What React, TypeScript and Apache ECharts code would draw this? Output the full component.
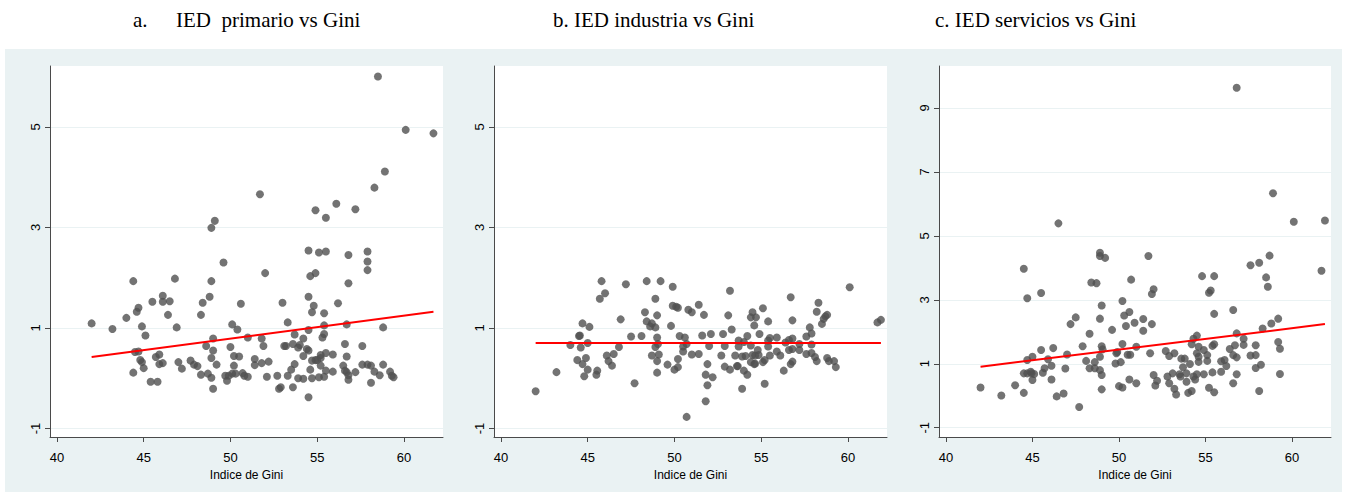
import React, { useEffect, useRef } from "react";
import * as echarts from "echarts";

const xTicks = [40, 45, 50, 55, 60];
const yTicksAB = [-1, 1, 3, 5];
const yTicksC = [-1, 1, 3, 5, 7, 9];

const titleA1 = "a.";
const titleA2 = "IED  primario vs Gini";
const titleB = "b. IED industria vs Gini";
const titleC = "c. IED servicios vs Gini";
const xName = "Indice de Gini";

// a. IED primario vs Gini  [gini, ied]
const primario: [number, number][] = [
  [58.5, 6.0], [60.1, 4.94], [61.7, 4.87], [58.9, 4.11], [58.3, 3.79], [51.7, 3.66], [56.1, 3.47], [57.2, 3.36],
  [54.9, 3.34], [55.5, 3.19], [49.1, 3.13], [48.9, 2.99], [54.5, 2.54], [55.1, 2.5], [55.5, 2.52], [57.9, 2.52],
  [56.8, 2.45], [57.9, 2.32], [57.9, 2.15], [49.6, 2.3], [52.0, 2.09], [54.9, 2.09], [54.6, 2.03], [46.8, 1.98],
  [44.4, 1.93], [48.9, 1.93], [56.8, 1.89], [54.5, 1.62], [48.8, 1.62], [46.1, 1.64], [45.5, 1.52], [46.1, 1.52],
  [46.5, 1.53], [48.4, 1.5], [53.0, 1.5], [56.2, 1.49], [50.6, 1.48], [54.8, 1.44], [54.7, 1.31], [55.4, 1.29],
  [44.7, 1.4], [44.6, 1.32], [46.4, 1.26], [48.3, 1.26], [44.0, 1.2], [42.0, 1.09], [43.2, 0.98], [44.9, 1.03],
  [46.9, 1.01], [45.1, 0.85], [50.1, 1.07], [50.4, 0.97], [53.3, 1.11], [55.4, 1.05], [56.7, 1.07], [58.8, 1.01],
  [54.5, 0.96], [55.4, 0.88], [55.3, 0.81], [53.7, 0.87], [51.0, 0.81], [51.8, 0.79], [49.0, 0.79], [54.2, 0.79],
  [48.6, 0.64], [50.0, 0.62], [51.9, 0.64], [53.1, 0.64], [53.2, 0.64], [53.6, 0.68], [53.9, 0.61], [54.0, 0.66],
  [56.6, 0.68], [57.6, 0.64], [54.4, 0.58], [54.5, 0.55], [49.0, 0.55], [44.5, 0.52], [44.7, 0.53], [55.5, 0.5],
  [55.9, 0.47], [55.2, 0.46], [54.2, 0.44], [50.2, 0.44], [50.5, 0.43], [56.7, 0.43], [45.9, 0.47], [45.7, 0.42],
  [48.9, 0.4], [44.8, 0.36], [44.9, 0.32], [51.4, 0.38], [54.7, 0.35], [54.9, 0.36], [55.0, 0.36], [55.2, 0.4],
  [47.0, 0.32], [47.7, 0.35], [52.2, 0.33], [51.8, 0.3], [46.1, 0.3], [45.9, 0.28], [47.9, 0.27], [48.1, 0.24],
  [49.2, 0.27], [51.4, 0.26], [53.7, 0.28], [55.2, 0.25], [56.5, 0.25], [57.6, 0.27], [57.9, 0.27], [58.1, 0.25],
  [58.8, 0.27], [50.2, 0.25], [45.0, 0.2], [47.2, 0.19], [53.5, 0.17], [54.6, 0.17], [55.5, 0.15], [55.9, 0.13],
  [56.6, 0.15], [56.7, 0.12], [57.2, 0.12], [58.3, 0.13], [59.2, 0.13], [44.4, 0.11], [48.3, 0.07], [48.7, 0.09],
  [49.7, 0.05], [49.9, 0.05], [50.1, 0.09], [50.3, 0.09], [50.7, 0.1], [50.8, 0.05], [51.0, 0.03], [52.1, 0.03],
  [52.7, 0.05], [53.3, 0.05], [53.9, 0.0], [54.2, -0.01], [54.7, 0.0], [55.1, 0.02], [55.4, 0.03], [56.8, 0.06],
  [58.6, 0.06], [59.3, 0.05], [59.4, 0.02], [48.9, 0.01], [49.8, -0.05], [56.8, -0.03], [45.4, -0.07], [45.8, -0.07],
  [58.1, -0.09], [52.8, -0.21], [52.9, -0.18], [53.6, -0.18], [49.0, -0.21], [54.5, -0.38],
];
const fitPrimario: [number, number][] = [[42.0, 0.42], [61.7, 1.32]];

// b. IED industria vs Gini
const industria: [number, number][] = [
  [42.0, -0.26], [43.2, 0.12], [44.0, 0.66], [44.5, 0.84], [44.55, 0.85], [44.4, 0.36], [44.6, 0.61], [44.7, 1.09],
  [44.7, 0.28], [44.9, 0.4], [44.8, 0.04], [45.0, 0.17], [45.0, 0.7], [45.1, 1.02], [45.5, 0.07], [45.55, 0.15],
  [45.7, 1.58], [45.8, 1.93], [46.0, 1.69], [46.1, 0.45], [46.2, 0.34], [46.4, 0.25], [46.5, 0.48], [46.8, 0.62],
  [46.9, 1.17], [47.2, 1.87], [47.5, 0.83], [47.7, -0.1], [48.1, 0.84], [48.3, 1.31], [48.4, 1.93], [48.4, 1.13],
  [48.6, 1.03], [48.7, 1.09], [48.7, 0.45], [48.9, 0.62], [48.9, 1.01], [48.9, 1.58], [49.0, 0.81], [49.0, 1.25],
  [49.05, 0.68], [49.1, 0.47], [49.0, 0.34], [49.0, 0.11], [49.2, 1.93], [49.6, 0.27], [49.8, 1.04], [49.9, 1.82],
  [49.9, 1.44], [50.0, 0.17], [50.2, 0.22], [50.2, 0.38], [50.1, 1.42], [50.2, 1.4], [50.3, 0.84], [50.5, 0.53],
  [50.5, 0.63], [50.6, 0.81], [50.7, 0.68], [50.7, -0.77], [50.8, 1.36], [51.0, 1.31], [51.0, 0.47], [51.4, 1.46],
  [51.4, 0.48], [51.6, 0.85], [51.7, 1.26], [51.8, 0.07], [51.8, -0.46], [51.9, 0.28], [51.9, -0.14], [52.0, 0.64],
  [52.1, 0.88], [52.2, 0.02], [52.7, 0.45], [52.8, 0.88], [52.9, 0.23], [52.9, 0.64], [53.1, 1.25], [53.2, 0.17],
  [53.2, 1.74], [53.3, 0.97], [53.5, 0.45], [53.6, 0.24], [53.65, 0.24], [53.7, 0.63], [53.7, 0.75], [53.9, 0.43],
  [53.9, -0.21], [54.0, 0.15], [54.0, 0.72], [54.1, 0.44], [54.2, 0.84], [54.2, 0.07], [54.4, 0.32], [54.4, 0.65],
  [54.4, 1.21], [54.5, 0.46], [54.5, 1.31], [54.6, 1.05], [54.6, 0.28], [54.65, 0.29], [54.65, 0.45], [54.7, 1.21],
  [54.8, 0.56], [54.9, 0.88], [54.85, 0.46], [55.1, 1.39], [55.1, 0.32], [55.2, -0.11], [55.2, 0.36], [55.4, 0.63],
  [55.4, 0.75], [55.4, 1.13], [55.5, 0.45], [55.5, 0.8], [55.9, 0.81], [55.9, 0.53], [56.1, 0.45], [56.3, 0.15],
  [56.4, 0.71], [56.6, 0.76], [56.7, 1.61], [56.6, 0.56], [56.7, 0.28], [56.8, 0.79], [56.8, 1.15], [56.8, 0.58],
  [56.8, 0.33], [57.2, 0.68], [57.2, 0.56], [57.6, 0.48], [57.6, 0.83], [57.8, 1.01], [57.9, 0.67], [57.9, 0.89],
  [57.9, 0.5], [58.1, 0.42], [58.2, 1.32], [58.2, 0.34], [58.3, 1.5], [58.5, 1.08], [58.6, 1.18], [58.7, 1.23],
  [58.8, 1.26], [58.8, 0.4], [58.9, 0.34], [59.2, 0.34], [59.3, 0.22], [60.1, 1.81], [61.7, 1.11], [61.9, 1.16],
];
const fitIndustria: [number, number][] = [[42.0, 0.7], [61.9, 0.7]];

// c. IED servicios vs Gini
const servicios: [number, number][] = [
  [56.8, 9.63], [58.9, 6.33], [46.5, 5.39], [60.1, 5.44], [61.9, 5.48], [48.9, 4.47], [48.9, 4.37], [49.2, 4.31],
  [51.7, 4.37], [58.7, 4.38], [44.5, 3.97], [57.6, 4.08], [58.1, 4.16], [61.7, 3.91], [54.8, 3.74], [55.5, 3.74],
  [58.5, 3.7], [58.6, 3.41], [50.7, 3.63], [48.4, 3.54], [48.7, 3.52], [45.5, 3.21], [44.7, 3.05], [51.9, 3.18],
  [52.0, 3.33], [55.2, 3.22], [55.3, 3.29], [50.2, 2.96], [49.0, 2.82], [56.6, 2.68], [50.3, 2.51], [50.6, 2.62],
  [55.5, 2.56], [47.5, 2.45], [48.9, 2.41], [51.4, 2.4], [59.2, 2.41], [47.2, 2.24], [50.9, 2.28], [51.9, 2.24],
  [58.8, 2.26], [50.4, 2.18], [49.6, 2.06], [51.4, 2.03], [58.3, 2.1], [48.3, 1.94], [56.8, 1.95], [57.2, 1.78],
  [59.2, 1.68], [54.3, 1.78], [54.5, 1.88], [47.9, 1.55], [49.0, 1.55], [50.2, 1.62], [51.0, 1.53], [54.2, 1.61],
  [54.6, 1.53], [55.4, 1.56], [55.5, 1.61], [56.7, 1.58], [57.2, 1.59], [57.9, 1.58], [59.3, 1.47], [45.5, 1.43],
  [46.2, 1.49], [49.05, 1.45], [52.7, 1.4], [53.2, 1.33], [54.9, 1.43], [56.4, 1.46], [49.9, 1.37], [49.85, 1.33],
  [50.5, 1.28], [50.65, 1.28], [51.8, 1.33], [52.9, 1.24], [54.5, 1.33], [54.6, 1.22], [55.1, 1.27], [47.0, 1.29],
  [48.9, 1.22], [45.0, 1.22], [56.6, 1.27], [56.8, 1.2], [57.6, 1.26], [57.9, 1.27], [53.6, 1.16], [53.8, 1.16],
  [44.7, 1.12], [45.9, 1.14], [48.1, 1.09], [48.6, 1.05], [49.8, 1.01], [50.1, 1.05], [54.1, 0.99], [54.6, 1.06],
  [55.1, 1.09], [55.9, 1.08], [56.1, 1.12], [56.2, 0.93], [58.2, 0.97], [46.1, 0.94], [53.7, 0.89], [45.7, 0.86],
  [46.9, 0.85], [48.3, 0.86], [48.6, 0.86], [48.9, 0.8], [57.9, 0.87], [44.5, 0.7], [44.7, 0.7], [44.9, 0.75],
  [44.95, 0.7], [45.1, 0.68], [45.6, 0.72], [49.0, 0.65], [52.0, 0.65], [53.1, 0.7], [53.5, 0.67], [53.9, 0.7],
  [54.5, 0.67], [54.9, 0.67], [55.4, 0.73], [55.9, 0.75], [56.8, 0.67], [59.3, 0.68], [45.0, 0.49], [46.1, 0.51],
  [52.8, 0.6], [53.55, 0.6], [54.3, 0.6], [54.4, 0.51], [50.6, 0.51], [52.2, 0.47], [52.9, 0.39], [53.9, 0.44],
  [44.0, 0.33], [51.0, 0.39], [52.1, 0.32], [42.0, 0.26], [50.0, 0.3], [50.2, 0.26], [55.2, 0.25], [56.6, 0.39],
  [49.0, 0.2], [53.2, 0.22], [53.3, 0.04], [54.0, 0.09], [54.2, 0.15], [55.5, 0.11], [58.1, 0.15], [44.5, 0.09],
  [46.8, 0.07], [43.2, 0.01], [46.4, -0.02], [47.7, -0.35],
];
const fitServicios: [number, number][] = [[42.0, 0.91], [61.9, 2.24]];

const FONT_SANS = '"Liberation Sans", Arial, sans-serif';
const FONT_SERIF = '"Liberation Serif", "Times New Roman", serif';
const BG = "#EAF2F3";
const AXIS_COLOR = "#4a4a4a";

function makeX(gridIndex: number) {
  return {
    type: "value",
    gridIndex,
    min: 39.6,
    max: 62.25,
    name: xName,
    nameLocation: "middle",
    nameGap: 29,
    nameTextStyle: { fontFamily: FONT_SANS, fontSize: 12, color: "#000" },
    axisLine: { show: true, onZero: false, lineStyle: { color: AXIS_COLOR, width: 1 } },
    axisTick: { show: true, length: 5, customValues: xTicks, lineStyle: { color: AXIS_COLOR } },
    axisLabel: { customValues: xTicks, margin: 14, fontFamily: FONT_SANS, fontSize: 13, color: "#000" },
    splitLine: { show: false },
  };
}

function makeY(gridIndex: number, min: number, max: number, ticks: number[]) {
  return {
    type: "value",
    gridIndex,
    min,
    max,
    axisLine: { show: true, onZero: false, lineStyle: { color: AXIS_COLOR, width: 1 } },
    axisTick: { show: true, length: 5, customValues: ticks, lineStyle: { color: AXIS_COLOR } },
    axisLabel: { customValues: ticks, rotate: 90, margin: 8, fontFamily: FONT_SANS, fontSize: 13, color: "#000" },
    splitLine: { show: true, lineStyle: { color: BG, width: 1 } },
  };
}

function scatter(idx: number, data: [number, number][]) {
  return {
    type: "scatter",
    xAxisIndex: idx,
    yAxisIndex: idx,
    data,
    symbol: "circle",
    symbolSize: 8,
    itemStyle: { color: "#505050" },
    z: 2,
  };
}

function fit(idx: number, data: [number, number][]) {
  return {
    type: "line",
    xAxisIndex: idx,
    yAxisIndex: idx,
    data,
    showSymbol: false,
    symbol: "none",
    lineStyle: { color: "#ff0000", width: 2 },
    z: 3,
  };
}

export default function App() {
  const ref = useRef<HTMLDivElement>(null);
  useEffect(() => {
    if (!ref.current) return;
    const chart = echarts.init(ref.current, null, { renderer: "svg" });
    const titleStyle = (text: string) => ({
      text,
      font: `21px ${FONT_SERIF}`,
      fill: "#000",
      verticalAlign: "middle",
    });
    chart.setOption({
      animation: false,
      backgroundColor: "#ffffff",
      graphic: [
        { type: "rect", z: -100, silent: true, shape: { x: 5, y: 49, width: 1337, height: 443 }, style: { fill: BG } },
        { type: "text", x: 133, y: 20, style: titleStyle(titleA1) },
        { type: "text", x: 176, y: 20, style: titleStyle(titleA2) },
        { type: "text", x: 553, y: 20, style: titleStyle(titleB) },
        { type: "text", x: 935, y: 20, style: titleStyle(titleC) },
      ],
      grid: [
        { left: 50, top: 66, width: 393, height: 371, show: true, backgroundColor: "#fff", borderWidth: 0 },
        { left: 494, top: 66, width: 393, height: 371, show: true, backgroundColor: "#fff", borderWidth: 0 },
        { left: 939, top: 66, width: 392, height: 371, show: true, backgroundColor: "#fff", borderWidth: 0 },
      ],
      xAxis: [makeX(0), makeX(1), makeX(2)],
      yAxis: [
        makeY(0, -1.17, 6.21, yTicksAB),
        makeY(1, -1.17, 6.21, yTicksAB),
        makeY(2, -1.29, 10.31, yTicksC),
      ],
      series: [
        scatter(0, primario),
        fit(0, fitPrimario),
        scatter(1, industria),
        fit(1, fitIndustria),
        scatter(2, servicios),
        fit(2, fitServicios),
      ],
    });
    return () => chart.dispose();
  }, []);
  return <div ref={ref} style={{ position: "absolute", left: 0, top: 0, width: 1346, height: 492 }} />;
}
